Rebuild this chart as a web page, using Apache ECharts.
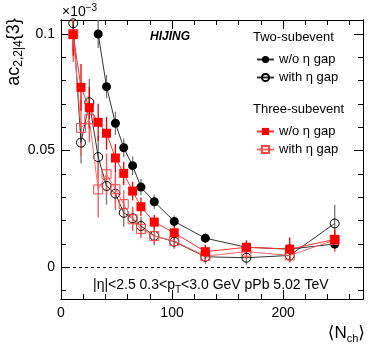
<!DOCTYPE html>
<html>
<head>
<meta charset="utf-8">
<script src="https://cdn.jsdelivr.net/npm/echarts@6/dist/echarts.min.js"></script>
<style>
html, body { margin: 0; padding: 0; background: #fff; }
#main { width: 374px; height: 351px; }
</style>
</head>
<body>
<div id="main"></div>
<script>
// <Nch> bins (values in units of 1e-3)
var nch = [11, 18, 25.5, 33.5, 41, 49, 56.5, 64.5, 72, 84, 102, 130, 167, 206, 246.5]

// two-subevent, w/o eta gap (starts at 4th bin)
var twoNoGap = [0.1, 0.0774, 0.0617, 0.0512, 0.0435, 0.0343, 0.028, 0.0196, 0.0124, 0.0085, 0.0077, 0.0099]
var twoNoGapErr = [0.006, 0.005, 0.005, 0.004, 0.004, 0.0035, 0.003, 0.0025, 0.002, 0.002, 0.002, 0.003]
// two-subevent, with eta gap
var twoGap = [0.1046, 0.0534, 0.0707, 0.0472, 0.0348, 0.0315, 0.0233, 0.0209, 0.0176, 0.0134, 0.0109, 0.0044, 0.004, 0.005, 0.0187]
var twoGapErr = [0.012, 0.009, 0.01, 0.009, 0.008, 0.007, 0.006, 0.005, 0.004, 0.004, 0.003, 0.003, 0.003, 0.003, 0.008]
// three-subevent, w/o eta gap
var threeNoGap = [0.0997, 0.0771, 0.0684, 0.0621, 0.0574, 0.0468, 0.0402, 0.0326, 0.0259, 0.0193, 0.0147, 0.0066, 0.0085, 0.0077, 0.0119]
var threeNoGapErr = [0.009, 0.01, 0.009, 0.008, 0.007, 0.006, 0.005, 0.004, 0.004, 0.003, 0.003, 0.003, 0.003, 0.005, 0.004]
// three-subevent, with eta gap
var threeGap = [0.1, 0.0597, 0.0634, 0.0333, 0.0398, 0.0334, 0.027, 0.0205, 0.0164, 0.0133, 0.0112, 0.0047, 0.0066, 0.005, 0.0116]
var threeGapErr = [0.012, 0.012, 0.01, 0.012, 0.009, 0.008, 0.006, 0.005, 0.004, 0.003, 0.003, 0.003, 0.003, 0.003, 0.005]

var xMajor = [0, 100, 200]
var xMinor = [20, 40, 60, 80, 120, 140, 160, 180, 220, 240, 260]
var yMajor = [0, 0.05, 0.1]
var yMinor = [-0.01, 0.01, 0.02, 0.03, 0.04, 0.06, 0.07, 0.08, 0.09]

var FONT = 'Liberation Sans, Arial, DejaVu Sans, sans-serif'
var X_MIN = 0, X_MAX = 272, Y_MIN = -0.0137, Y_MAX = 0.106

var legendNames = {
  twoNo: 'w/o η gap', twoWith: 'with η gap',
  threeNo: 'w/o η gap', threeWith: 'with η gap'
}

function pairs (xs, ys) {
  return ys.map((y, i) => [xs[i], y])
}

function errBars (xs, ys, errs, color) {
  return {
    type: 'custom',
    silent: true,
    clip: true,
    z: 1,
    data: ys.map((y, i) => [xs[i], y - errs[i], y + errs[i]]),
    encode: { x: 0, y: [1, 2] },
    renderItem: function (params, api) {
      var lo = api.coord([api.value(0), api.value(1)])
      var hi = api.coord([api.value(0), api.value(2)])
      return {
        type: 'line',
        shape: { x1: lo[0], y1: lo[1], x2: hi[0], y2: hi[1] },
        style: { stroke: color, lineWidth: 1.3 }
      }
    }
  }
}

function xAx (pos, vals, len, labels) {
  return {
    type: 'value', position: pos, min: X_MIN, max: X_MAX, gridIndex: 0,
    splitLine: { show: false },
    axisLine: { show: true, onZero: false, lineStyle: { color: '#000', width: 1 } },
    axisTick: { show: true, inside: true, length: len, customValues: vals, lineStyle: { color: '#000' } },
    axisLabel: labels ? { show: true, customValues: vals, color: '#000', fontSize: 14, fontFamily: FONT, margin: 7 } : { show: false }
  }
}

function yAx (pos, vals, len, labels) {
  return {
    type: 'value', position: pos, min: Y_MIN, max: Y_MAX, gridIndex: 0,
    splitLine: { show: false },
    axisLine: { show: true, onZero: false, lineStyle: { color: '#000', width: 1 } },
    axisTick: { show: true, inside: true, length: len, customValues: vals, lineStyle: { color: '#000' } },
    axisLabel: labels ? { show: true, customValues: vals, color: '#000', fontSize: 14, fontFamily: FONT, margin: 6 } : { show: false }
  }
}

function legendBox (names, top) {
  return {
    data: names,
    orient: 'vertical', left: 256, top: top, padding: 0,
    itemWidth: 17, itemHeight: 9, itemGap: 5,
    formatter: name => legendNames[name],
    textStyle: { fontSize: 13, fontFamily: FONT, color: '#000', lineHeight: 13 },
    selectedMode: false
  }
}

var chart = echarts.init(document.getElementById('main'), null, { renderer: 'canvas' })

var option = {
  animation: false,
  backgroundColor: '#fff',
  grid: { left: 61, right: 11, top: 20, bottom: 52 },
  xAxis: [
    xAx('bottom', xMajor, 9, true),
    xAx('bottom', xMinor, 5, false),
    xAx('top', xMajor, 9, false),
    xAx('top', xMinor, 5, false)
  ],
  yAxis: [
    yAx('left', yMajor, 9, true),
    yAx('left', yMinor, 5, false),
    yAx('right', yMajor, 9, false),
    yAx('right', yMinor, 5, false)
  ],
  legend: [
    legendBox(['twoNo', 'twoWith'], 53),
    legendBox(['threeNo', 'threeWith'], 125)
  ],
  series: [
    errBars(nch.slice(3), twoNoGap, twoNoGapErr, '#777'),
    errBars(nch, twoGap, twoGapErr, '#777'),
    errBars(nch, threeGap, threeGapErr, '#f55'),
    errBars(nch, threeNoGap, threeNoGapErr, '#e00'),
    {
      name: 'twoNo', type: 'line', z: 3,
      data: pairs(nch.slice(3), twoNoGap),
      symbol: 'circle', symbolSize: 9,
      itemStyle: { color: '#000' },
      lineStyle: { color: '#333', width: 1 },
      markLine: {
        silent: true, symbol: ['none', 'none'],
        label: { show: false },
        lineStyle: { color: '#000', type: [3, 3], width: 1 },
        data: [{ yAxis: 0 }]
      }
    },
    {
      name: 'twoWith', type: 'line', z: 3,
      data: pairs(nch, twoGap),
      symbol: 'circle', symbolSize: 9,
      itemStyle: { color: 'rgba(255,255,255,0)', borderColor: '#000', borderWidth: 1 },
      lineStyle: { color: '#333', width: 1 }
    },
    {
      name: 'threeWith', type: 'line', z: 4,
      data: pairs(nch, threeGap),
      symbol: 'rect', symbolSize: 9,
      itemStyle: { color: 'rgba(255,255,255,0)', borderColor: '#f44', borderWidth: 1 },
      lineStyle: { color: '#f66', width: 1 }
    },
    {
      name: 'threeNo', type: 'line', z: 5,
      data: pairs(nch, threeNoGap),
      symbol: 'rect', symbolSize: 9,
      itemStyle: { color: '#ff0000' },
      lineStyle: { color: '#f33', width: 1 }
    }
  ],
  graphic: [
    {
      type: 'text', x: 14, y: 52, rotation: Math.PI / 2,
      style: {
        text: 'ac{sub|2,2|4}{3}',
        fontSize: 18, fontFamily: FONT, fill: '#000',
        align: 'center', verticalAlign: 'middle',
        rich: { sub: { fontSize: 12, fontFamily: FONT, padding: [10, 0, 0, 0] } }
      }
    },
    {
      type: 'text', x: 62, y: 12,
      style: {
        text: '×10{sup|−3}',
        fontSize: 14, fontFamily: FONT, fill: '#000',
        verticalAlign: 'middle',
        rich: { sup: { fontSize: 10, fontFamily: FONT, padding: [0, 0, 8, 0] } }
      }
    },
    {
      type: 'text', x: 150, y: 37,
      style: {
        text: 'HIJING', fontSize: 12, fontWeight: 'bold', fontStyle: 'italic',
        fontFamily: FONT, fill: '#000', verticalAlign: 'middle'
      }
    },
    {
      type: 'text', x: 253, y: 37,
      style: { text: 'Two-subevent', fontSize: 13, fontFamily: FONT, fill: '#000', verticalAlign: 'middle' }
    },
    {
      type: 'text', x: 253, y: 109,
      style: { text: 'Three-subevent', fontSize: 13, fontFamily: FONT, fill: '#000', verticalAlign: 'middle' }
    },
    {
      type: 'text', x: 93, y: 285,
      style: {
        text: '|η|<2.5 0.3<p{sub|T}<3.0 GeV pPb 5.02 TeV',
        fontSize: 14, fontFamily: FONT, fill: '#000', verticalAlign: 'middle',
        rich: { sub: { fontSize: 10, fontFamily: FONT, padding: [10, 0, 0, 0] } }
      }
    },
    {
      type: 'text', x: 365, y: 333,
      style: {
        text: '⟨N{sub|ch}⟩',
        fontSize: 17, fontFamily: FONT, fill: '#000', align: 'right', verticalAlign: 'middle',
        rich: { sub: { fontSize: 11, fontFamily: FONT, padding: [11, 0, 0, 0] } }
      }
    }
  ]
}

option && chart.setOption(option)

window.addEventListener('resize', () => {
  chart.resize()
})
</script>
</body>
</html>
